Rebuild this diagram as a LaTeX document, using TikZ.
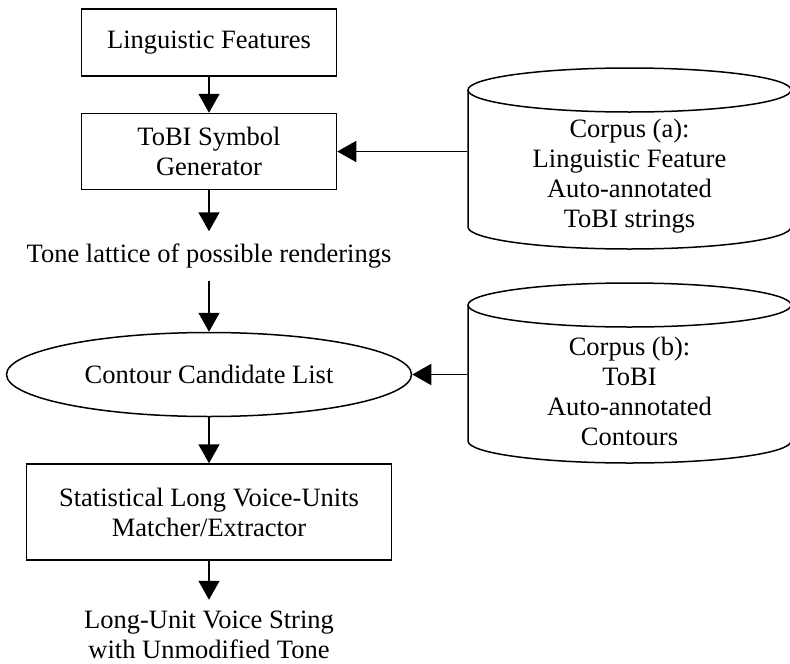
\documentclass[tikz,border=0pt]{standalone}
\usepackage{fontspec}
\setmainfont{Liberation Serif}
\usetikzlibrary{arrows.meta, positioning, shapes.geometric}

\begin{document}
\begin{tikzpicture}[x=1pt, y=-1pt,
  font=\fontsize{26.5}{30}\selectfont,
  line width=1.5pt,
  blk/.style={rectangle, draw, align=center, inner sep=0pt},
  txt/.style={align=center, inner sep=0pt},
  arr/.style={-{Triangle[length=19pt, width=21pt]}, line width=1.5pt}]
  \useasboundingbox (0,0) rectangle (790,664);
  % main chain
  \node[blk, minimum width=255pt, minimum height=67pt] (feat) at (209,42.5) {Linguistic Features};
  \node[blk, minimum width=255pt, minimum height=76pt, below=36pt of feat] (tobi) {ToBI Symbol\\Generator};
  \node[txt, minimum height=48pt, below=41pt of tobi] (lattice) {Tone lattice of possible renderings};
  \node[ellipse, draw, minimum width=405pt, minimum height=84pt, inner sep=0pt, below=51pt of lattice] (cand) {Contour Candidate List};
  \node[blk, minimum width=365pt, minimum height=96pt, below=46pt of cand] (stat) {Statistical Long Voice-Units\\Matcher/Extractor};
  \node[txt, below=49pt of stat] (out) {Long-Unit Voice String\\with Unmodified Tone};
  % corpora (cylinders)
  \draw (468,90) -- (468,227) arc[start angle=180, end angle=360, x radius=161.5pt, y radius=22pt] -- (791,90);
  \draw (629.5,90) ellipse[x radius=161.5pt, y radius=22pt];
  \node[txt, minimum width=323pt] (corpA) at (629.5,176) {Corpus (a):\\Linguistic Feature\\Auto-annotated\\ToBI strings};
  \draw (468,305) -- (468,441) arc[start angle=180, end angle=360, x radius=161.5pt, y radius=22pt] -- (791,305);
  \draw (629.5,305) ellipse[x radius=161.5pt, y radius=22pt];
  \node[txt, minimum width=323pt] (corpB) at (629.5,391) {Corpus (b):\\ToBI\\Auto-annotated\\Contours};
  % connectors
  \draw[arr] (feat) -- (tobi);
  \draw[arr] (tobi) -- (lattice);
  \draw[arr] (lattice) -- (cand);
  \draw[arr] (cand) -- (stat);
  \draw[arr, shorten >=10pt] (stat) -- (out);
  \draw[arr] (corpA.west |- tobi.east) -- (tobi.east);
  \draw[arr] (corpB.west |- cand.east) -- (cand.east);
\end{tikzpicture}
\end{document}
